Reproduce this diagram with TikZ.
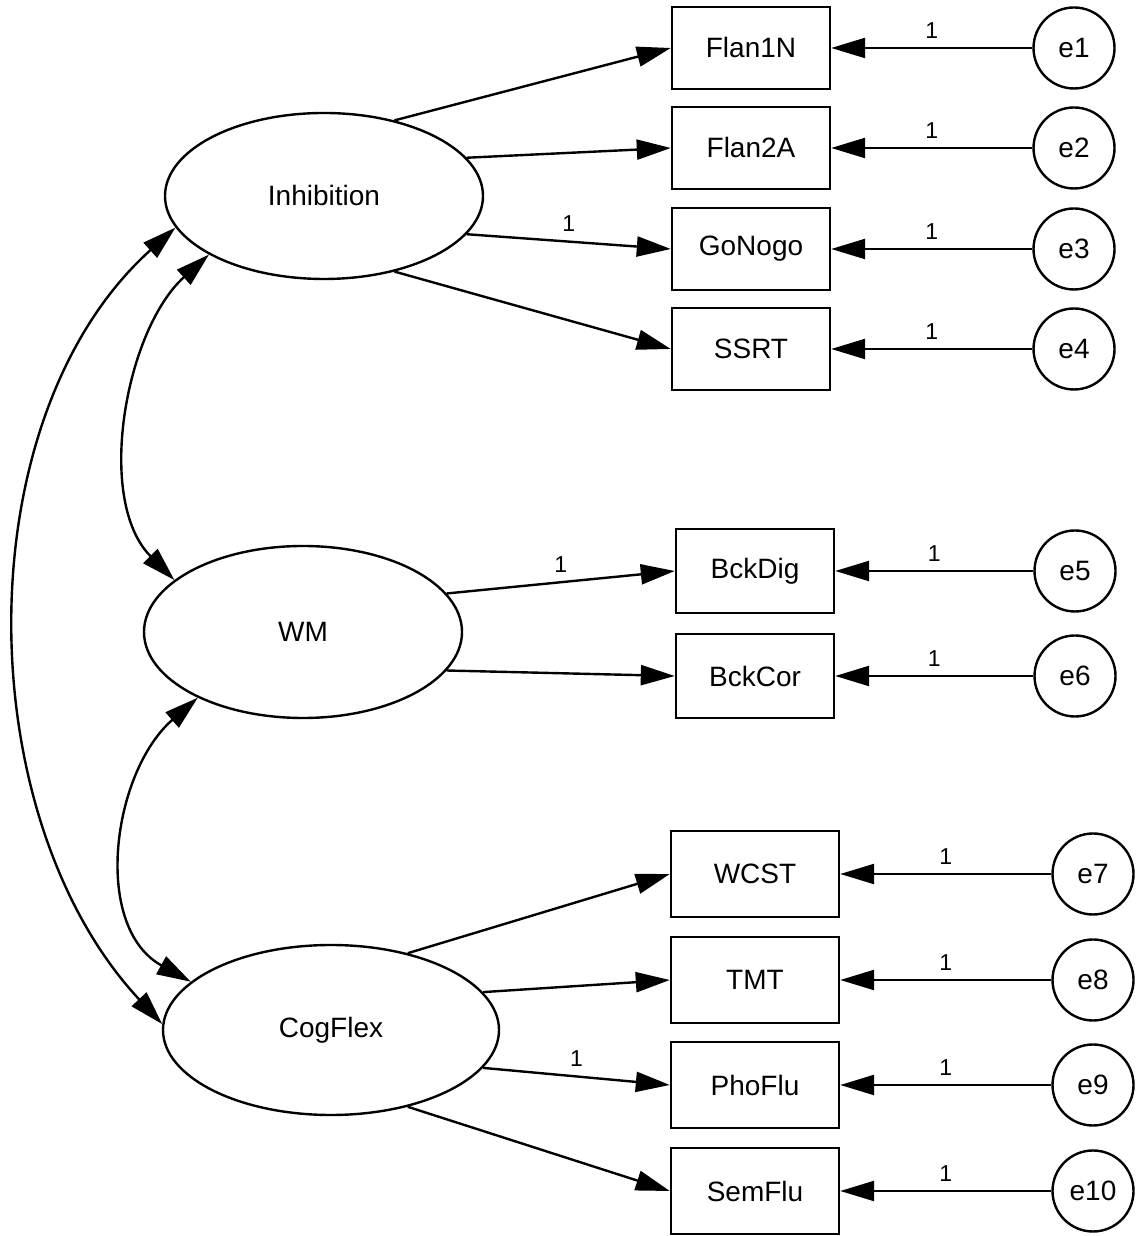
\documentclass[tikz,border=0pt]{standalone}
\usepackage{fontspec}
\setmainfont{Liberation Sans}
\usetikzlibrary{shapes.geometric,arrows.meta,positioning}

\begin{document}
\begin{tikzpicture}[
    x=0.5pt, y=0.5pt,
    >={Triangle[length=17pt,width=10pt]},
    line width=1.2pt,
    every node/.style={font=\fontsize{14}{16}\selectfont},
    latent/.style={draw, ellipse, inner sep=0pt, minimum width=159pt, minimum height=83pt},
    observed/.style={draw, rectangle, inner sep=0pt, minimum width=79pt, minimum height=41pt},
    resid/.style={draw, circle, inner sep=0pt, minimum size=40.5pt},
    fixed/.style={midway, above=1pt, font=\fontsize{11.5}{13}\selectfont}
  ]

    \useasboundingbox (0,0) rectangle (1143,1236);

    %------------------ Latent factors ------------------%
    \node[latent] (inh) at (324,1040) {Inhibition};
    \node[latent, minimum height=86pt] (wm) at (303,604) {WM};
    \node[latent, minimum width=168pt, minimum height=85pt] (cog) at (331,206) {CogFlex};

    %------------------ Inhibition indicators ------------------%
    \node[observed] (flan1n) at (751,1188) {Flan1N};
    \node[observed] (flan2a) at (751,1088) {Flan2A};
    \node[observed] (gonogo) at (751,987) {GoNogo};
    \node[observed] (ssrt) at (751,887) {SSRT};

    \node[resid] (e1) at (1074,1188) {e1};
    \node[resid] (e2) at (1074,1088) {e2};
    \node[resid] (e3) at (1074,987) {e3};
    \node[resid] (e4) at (1074,887) {e4};

    %------------------ WM indicators ------------------%
    \node[observed, minimum height=42pt] (bckdig) at (755,665) {BckDig};
    \node[observed, minimum height=42pt] (bckcor) at (755,560) {BckCor};

    \node[resid] (e5) at (1075,665) {e5};
    \node[resid] (e6) at (1075,560) {e6};

    %------------------ CogFlex indicators ------------------%
    \node[observed, minimum width=84pt, minimum height=43pt] (wcst) at (755,362) {WCST};
    \node[observed, minimum width=84pt, minimum height=43pt] (tmt) at (755,256) {TMT};
    \node[observed, minimum width=84pt, minimum height=43pt] (phoflu) at (755,151) {PhoFlu};
    \node[observed, minimum width=84pt, minimum height=43pt] (semflu) at (755,45) {SemFlu};

    \node[resid] (e7) at (1093,362) {e7};
    \node[resid] (e8) at (1093,256) {e8};
    \node[resid] (e9) at (1093,151) {e9};
    \node[resid] (e10) at (1093,45) {e10};

    % Loadings
    \draw[->] (inh.47) -- (flan1n.west);
    \draw[->] (inh.15) -- (flan2a.west);
    \draw[->] (inh.-15) -- (gonogo.west) node[fixed] {1};
    \draw[->] (inh.-47) -- (ssrt.west);

    \draw[->] (wm.15) -- (bckdig.west) node[fixed] {1};
    \draw[->] (wm.-15) -- (bckcor.west);

    \draw[->] (cog.45) -- (wcst.west);
    \draw[->] (cog.14) -- (tmt.west);
    \draw[->] (cog.-14) -- (phoflu.west) node[fixed] {1};
    \draw[->] (cog.-45) -- (semflu.west);

    % Residuals
    \draw[->] (e1) -- (flan1n) node[fixed] {1};
    \draw[->] (e2) -- (flan2a) node[fixed] {1};
    \draw[->] (e3) -- (gonogo) node[fixed] {1};
    \draw[->] (e4) -- (ssrt) node[fixed] {1};
    \draw[->] (e5) -- (bckdig) node[fixed] {1};
    \draw[->] (e6) -- (bckcor) node[fixed] {1};
    \draw[->] (e7) -- (wcst) node[fixed] {1};
    \draw[->] (e8) -- (tmt) node[fixed] {1};
    \draw[->] (e9) -- (phoflu) node[fixed] {1};
    \draw[->] (e10) -- (semflu) node[fixed] {1};

    % Covariances between factors
    \draw[<->] (inh.192) to[out=222, in=133, looseness=0.91] (cog.178);
    \draw[<->] (inh.207) to[out=222, in=135, looseness=0.88] (wm.158);
    \draw[<->] (wm.212) to[out=221, in=151, looseness=1.02] (cog.161);

  \end{tikzpicture}
\end{document}
